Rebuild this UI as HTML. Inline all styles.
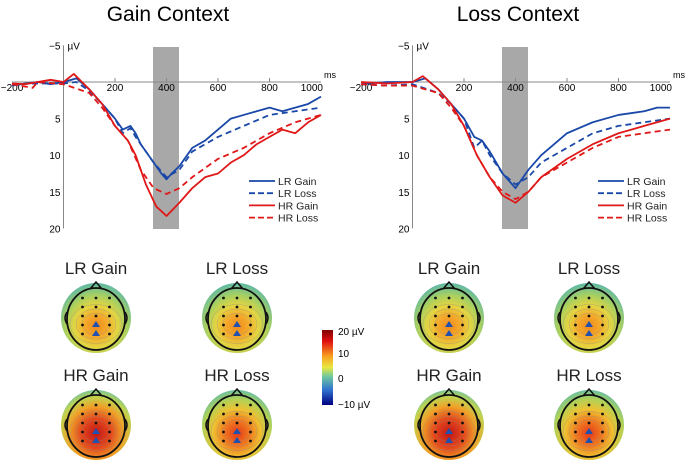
<!DOCTYPE html>
<html><head><meta charset="utf-8"><style>
body{margin:0;background:#fff;width:700px;height:463px;overflow:hidden;font-family:"Liberation Sans",sans-serif}
</style></head><body>
<svg id="s" width="700" height="463" xmlns="http://www.w3.org/2000/svg" font-family="Liberation Sans, sans-serif">
<defs>
<radialGradient id="gLR" cx="0.5" cy="0.62" r="0.62">
<stop offset="0" stop-color="#f08a1e"/><stop offset="0.25" stop-color="#f4a82a"/><stop offset="0.48" stop-color="#e6d440"/><stop offset="0.72" stop-color="#a8d060"/><stop offset="1" stop-color="#5cb8a8"/></radialGradient>
<radialGradient id="gHRL" cx="0.5" cy="0.62" r="0.62">
<stop offset="0" stop-color="#e43a1a"/><stop offset="0.3" stop-color="#f07a20"/><stop offset="0.55" stop-color="#f0c030"/><stop offset="0.8" stop-color="#b0d258"/><stop offset="1" stop-color="#68bea0"/></radialGradient>
<radialGradient id="gHRG" cx="0.5" cy="0.62" r="0.62">
<stop offset="0" stop-color="#c01818"/><stop offset="0.35" stop-color="#e44a1c"/><stop offset="0.62" stop-color="#f0a028"/><stop offset="0.85" stop-color="#c0d450"/><stop offset="1" stop-color="#78c498"/></radialGradient>
<linearGradient id="cb" x1="0" y1="0" x2="0" y2="1">
<stop offset="0" stop-color="#800000"/><stop offset="0.15" stop-color="#e01010"/><stop offset="0.35" stop-color="#f8a020"/><stop offset="0.5" stop-color="#e8e840"/><stop offset="0.62" stop-color="#70c8a0"/><stop offset="0.8" stop-color="#3070d0"/><stop offset="1" stop-color="#000080"/></linearGradient>
</defs>
<text x="168" y="21" font-size="21" text-anchor="middle">Gain Context</text>
<text x="518" y="21" font-size="21" text-anchor="middle">Loss Context</text>
<g id="plots"></g>
<g id="topos"></g>
<rect x="322" y="330" width="11" height="75" fill="url(#cb)"/>
<g font-size="10">
<text x="338" y="335">20 µV</text><text x="338" y="357">10</text><text x="338" y="382">0</text><text x="338" y="408">−10 µV</text>
</g>
</svg>
<script>
const NS="http://www.w3.org/2000/svg";
function el(t,a,p){const e=document.createElementNS(NS,t);for(const k in a)e.setAttribute(k,a[k]);p.appendChild(e);return e;}
const P=document.getElementById("plots");
const data=[
{
LRG:[[-200,.5],[-150,.2],[-100,0],[-50,.3],[0,0],[50,-.5],[100,1],[150,3],[200,5],[230,6.5],[260,6],[280,7],[300,8.5],[350,11],[380,12.5],[400,13.3],[420,12.5],[450,11.5],[500,9],[550,8],[600,6.5],[650,5],[700,4.5],[750,4],[800,3.5],[850,4],[900,3.5],[950,3],[1000,2]],
LRL:[[-200,.3],[-100,.2],[0,.2],[50,0],[100,1.2],[150,3],[200,5],[230,7],[260,6.3],[280,7.5],[300,8.5],[350,11],[400,13],[450,12],[500,9.5],[550,8.5],[600,7.5],[700,6],[800,4.5],[900,4],[1000,3.5]],
HRG:[[-200,.2],[-150,.3],[-100,0],[-50,-.3],[0,0],[40,-1.1],[100,1],[150,3],[200,6],[250,8],[280,10],[320,14],[360,17],[400,18.3],[450,16.5],[500,14.5],[550,13],[600,12.5],[650,11],[700,10],[750,8.5],[800,7.5],[850,6.5],[900,7],[950,5.5],[1000,4.5]],
HRL:[[-200,.3],[-120,.8],[-100,0],[0,.3],[100,1.5],[150,3.5],[200,6],[250,8],[300,12],[350,14.5],[400,15.3],[450,14.5],[500,13],[600,10.5],[700,9],[800,7],[900,5.5],[1000,4.5]]},
{
LRG:[[-200,.3],[-100,0],[0,0],[50,-.5],[100,1],[150,3],[200,5],[240,7.5],[270,8],[300,9.5],[350,12.5],[400,14.5],[450,12],[500,10],[550,8.5],[600,7],[700,5.5],[800,4.5],[900,4],[950,3.5],[1000,3.5]],
LRL:[[-200,.3],[-100,.5],[0,.3],[100,1.5],[150,3],[200,5],[240,9],[270,8],[300,10],[350,12.5],[400,14],[450,13],[500,11],[600,9],[700,7],[800,6],[900,5.5],[1000,5]],
HRG:[[-200,0],[-100,.2],[0,0],[40,-.8],[100,1],[150,3],[200,6],[250,10],[300,13],[350,15.5],[400,16.5],[450,15],[500,13],[600,10.5],[700,8.5],[800,7],[900,6],[1000,5]],
HRL:[[-200,.3],[-100,.5],[0,.5],[100,1.5],[150,3.5],[200,6],[250,10],[300,13],[350,15],[400,16],[450,15],[500,13],[600,11],[700,9],[800,7.5],[900,7],[1000,6.5]]}];
[0,349].forEach((off,i)=>{
 const X=ms=>63.5+off+ms*0.2575, Y=v=>82+v*7.32;
 el("rect",{x:153+off,y:47,width:26,height:182,fill:"#a8a8a8"},P);
 el("line",{x1:X(-200),y1:82,x2:X(1000),y2:82,stroke:"#888","stroke-width":1},P);
 el("line",{x1:X(0),y1:Y(-5),x2:X(0),y2:Y(20),stroke:"#888","stroke-width":1},P);
 [200,400,600,800].forEach(m=>{el("line",{x1:X(m),y1:82,x2:X(m),y2:78,stroke:"#888"},P);el("text",{x:X(m),y:91,"font-size":10,"text-anchor":"middle"},P).textContent=m;});
 el("text",{x:X(1000)+2,y:91,"font-size":10,"text-anchor":"end"},P).textContent="1000";
 el("text",{x:X(-200),y:91,"font-size":10,"text-anchor":"middle"},P).textContent="−200";
 el("text",{x:X(1000)+3,y:78,"font-size":9},P).textContent="ms";
 [[-5,"−5"],[5,"5"],[10,"10"],[15,"15"],[20,"20"]].forEach(([v,t])=>{el("text",{x:X(0)-3,y:Y(v)+4,"font-size":10,"text-anchor":"end"},P).textContent=t;});
 el("text",{x:X(0)+4,y:Y(-5)+4,"font-size":10},P).textContent="µV";
 const d=data[i];
 [["LRG","#1a48a8",0],["LRL","#1a48a8",1],["HRG","#e01818",0],["HRL","#e01818",1]].forEach(([k,c,dash])=>{
  const a={points:d[k].map(p=>X(p[0])+","+Y(p[1])).join(" "),fill:"none",stroke:c,"stroke-width":1.8,"stroke-linejoin":"round"};
  if(dash)a["stroke-dasharray"]="6,4";el("polyline",a,P);});
 [["LR Gain","#1a48a8",0],["LR Loss","#1a48a8",1],["HR Gain","#e01818",0],["HR Loss","#e01818",1]].forEach(([t,c,dash],j)=>{
  const y=181+j*12.2;const a={x1:249+off,y1:y,x2:275+off,y2:y,stroke:c,"stroke-width":1.8};if(dash)a["stroke-dasharray"]="6,3";el("line",a,P);
  el("text",{x:278+off,y:y+4,"font-size":10.5,fill:"#222"},P).textContent=t;});
});
const T=document.getElementById("topos");
const topos=[[96,318,"LR Gain","gLR"],[237,318,"LR Loss","gLR"],[96,425,"HR Gain","gHRG"],[237,425,"HR Loss","gHRL"],
[449,318,"LR Gain","gLR"],[589,318,"LR Loss","gLR"],[449,425,"HR Gain","gHRG"],[589,425,"HR Loss","gHRL"]];
topos.forEach(([cx,cy,t,g])=>{
 el("text",{x:cx,y:cy-44,"font-size":17,"text-anchor":"middle",fill:"#222"},T).textContent=t;
 el("circle",{cx,cy,r:35,fill:"url(#"+g+")"},T);
 [26,20,14].forEach(r=>el("ellipse",{cx,cy:cy+6,rx:r,ry:r*0.75,fill:"none",stroke:"#888","stroke-width":.5,opacity:.6},T));
 el("ellipse",{cx,cy:cy+1,rx:29,ry:31,fill:"none",stroke:"#111","stroke-width":1.8},T);
 el("path",{d:`M${cx-6},${cy-29} L${cx},${cy-36} L${cx+6},${cy-29}`,fill:"none",stroke:"#111","stroke-width":1.5},T);
 el("path",{d:`M${cx-29},${cy-6} q-4,6 0,12 M${cx+29},${cy-6} q4,6 0,12`,fill:"none",stroke:"#111","stroke-width":1.5},T);
 for(let r=0;r<5;r++)for(let c=-1;c<=1;c++){
  if((r==3||r==4)&&c==0)continue;
  el("circle",{cx:cx+c*13.5,cy:cy-20+r*9,r:1.4,fill:"#111"},T);}
 for(const yy of [cy+7,cy+16])el("path",{d:`M${cx},${yy-4} L${cx+4},${yy+2} L${cx-4},${yy+2}Z`,fill:"#2050b0"},T);
});
</script>
</body></html>
